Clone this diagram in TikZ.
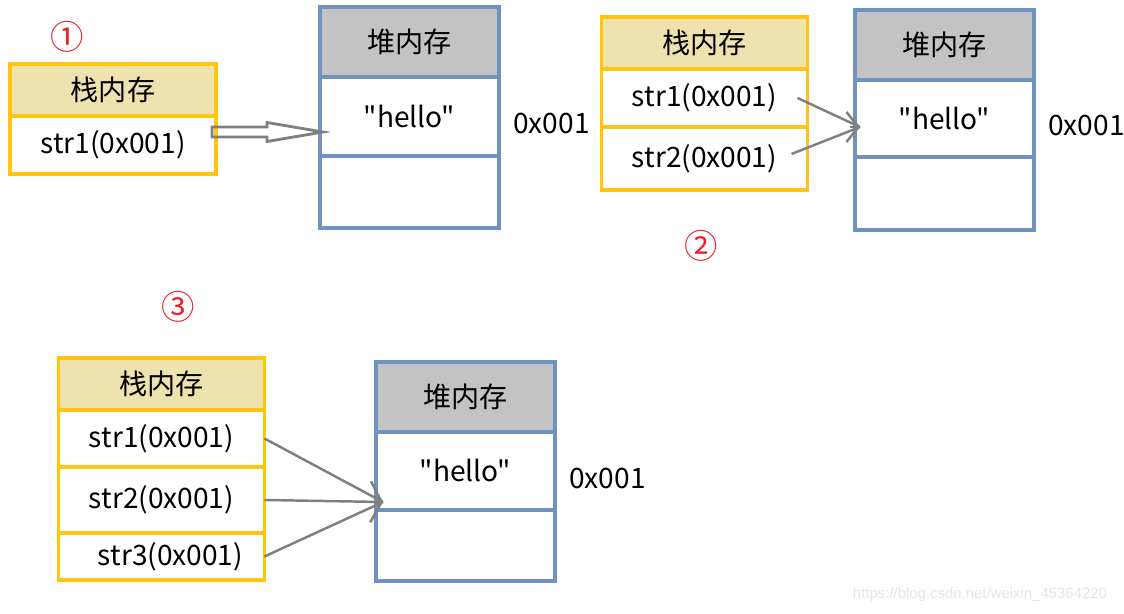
\documentclass[tikz,border=0pt]{standalone}
\usepackage{fontspec}
\setmainfont{Noto Sans CJK SC}[Ligatures=TeXOff]
\newfontfamily\markfont{Liberation Sans}
\usetikzlibrary{arrows.meta,positioning,calc}
\definecolor{stackline}{HTML}{FFC50F}
\definecolor{stackfill}{HTML}{EEE3AF}
\definecolor{heapline}{HTML}{7092BE}
\definecolor{heapfill}{HTML}{C3C3C3}
\definecolor{ptrgray}{HTML}{7F7F7F}
\definecolor{numred}{HTML}{EE1C25}

\begin{document}
\begin{tikzpicture}[
    x=0.02cm, y=-0.02cm,
    every node/.style={font=\fontsize{16}{19}\selectfont},
    stackhead/.style={draw=stackline, line width=1.8pt, fill=stackfill, outer sep=0pt,
                inner sep=2pt, minimum width=4.12cm, minimum height=1.04cm},
    stackcell/.style={draw=stackline, line width=1.8pt, fill=white, outer sep=0pt,
                inner sep=2pt, minimum width=4.12cm},
    heaphead/.style={draw=heapline, line width=1.8pt, fill=heapfill, outer sep=0pt,
                inner sep=2pt, minimum width=3.58cm, minimum height=1.4cm},
    heapcell/.style={draw=heapline, line width=1.8pt, fill=white, outer sep=0pt,
                inner sep=2pt, minimum width=3.58cm},
    addr/.style={inner sep=0pt},
    num/.style={text=numred, font=\fontsize{19}{22}\selectfont},
    ptr/.style={draw=ptrgray, line width=1.4pt},
    hollow/.style={draw=ptrgray, line width=1.6pt, line join=miter},
    wmark/.style={font=\markfont\fontsize{8.5}{10}\selectfont, text=black!10}
]
\useasboundingbox (0,0) rectangle (1124,613);

\node[num] (n1) at (67,37) {①};
\node[stackhead, anchor=north] (s1h) at (113,64) {栈内存};
\node[stackcell, minimum height=1.16cm, below=0pt of s1h] (s1a) {str1(0x001)};
\node[heaphead, anchor=north] (h1h) at (409.5,7) {堆内存};
\node[heapcell, minimum height=1.58cm, below=0pt of h1h] (h1m) {"hello"};
\node[heapcell, minimum height=1.44cm, below=0pt of h1m] (h1e) {};
\node[addr, right=0.28cm of h1m, yshift=-0.14cm] (h1x) {0x001};

\node[stackhead, anchor=north] (s2h) at (704.5,17) {栈内存};
\node[stackcell, minimum height=1.16cm, below=0pt of s2h] (s2a) {str1(0x001)};
\node[stackcell, minimum height=1.26cm, below=0pt of s2a] (s2b) {str2(0x001)};
\node[heaphead, anchor=north] (h2h) at (944.5,10) {堆内存};
\node[heapcell, minimum height=1.54cm, below=0pt of h2h] (h2m) {"hello"};
\node[heapcell, minimum height=1.46cm, below=0pt of h2m] (h2e) {};
\node[addr, right=0.28cm of h2m, yshift=-0.14cm] (h2x) {0x001};
\node[num] (n2) at (701,246) {②};

\node[num] (n3) at (178,307) {③};
\node[stackhead, anchor=north] (s3h) at (161.5,358) {栈内存};
\node[stackcell, minimum height=1.14cm, below=0pt of s3h] (s3a) {str1(0x001)};
\node[stackcell, minimum height=1.32cm, below=0pt of s3a] (s3b) {str2(0x001)};
\node[stackcell, minimum height=0.94cm, below=0pt of s3b] (s3c) {\hspace{0.36cm}str3(0x001)};
\node[heaphead, anchor=north] (h3h) at (465.5,362) {堆内存};
\node[heapcell, minimum height=1.56cm, below=0pt of h3h] (h3m) {"hello"};
\node[heapcell, minimum height=1.42cm, below=0pt of h3m] (h3e) {};
\node[addr, right=0.28cm of h3m, yshift=-0.14cm] (h3x) {0x001};

\coordinate (t1) at (212,132);
\coordinate (p1) at (323,132);
\draw[hollow] ($(t1)+(0,-5)$) -- ($(p1)+(-56,-5)$) -- ($(p1)+(-56,-9.5)$) -- (p1)
    -- ($(p1)+(-56,9.5)$) -- ($(p1)+(-56,5)$) -- ($(t1)+(0,5)$) -- cycle;

\coordinate (p2) at (860,127);
\draw[ptr] ([xshift=-0.2cm]s2a.east) -- (p2);
\draw[ptr] ([xshift=-0.32cm,yshift=0.09cm]s2b.east) -- (p2);
\draw[ptr, -{Straight Barb[length=0.24cm, width=0.6cm]}] ($(p2)+(-10,0)$) -- (p2);

\coordinate (p3) at (383,502);
\draw[ptr] (s3a.east) -- (p3);
\draw[ptr, -{Straight Barb[length=0.22cm, width=0.82cm]}] (s3b.east) -- (p3);
\draw[ptr] (s3c.east) -- (p3);

\node[wmark] (wm) at (980,595) {https://blog.csdn.net/weixin\_45364220};

\end{tikzpicture}
\end{document}
